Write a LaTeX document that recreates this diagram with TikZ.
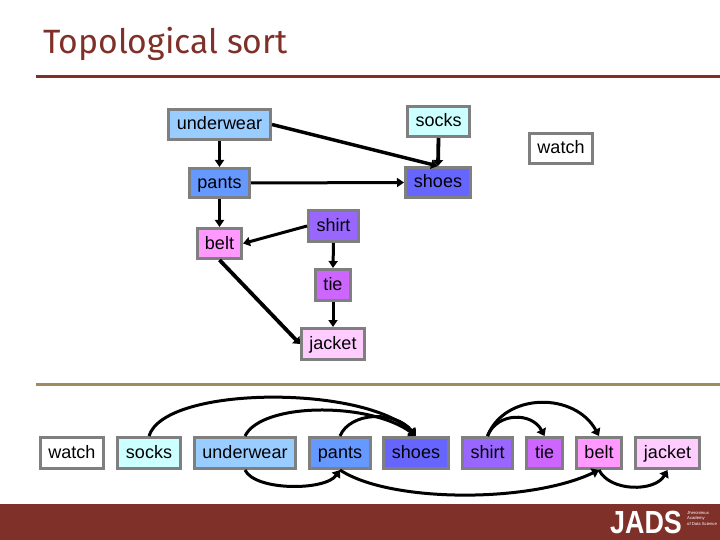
\documentclass[tikz,border=0pt]{standalone}
\usepackage{fontspec}
\setmainfont{Liberation Sans}
\newfontfamily\titlefont{Fira Sans}
\usetikzlibrary{arrows.meta}
\definecolor{brick}{HTML}{7F3029}
\definecolor{tan}{HTML}{A08B60}
\definecolor{edgegray}{HTML}{7F7F7F}
\definecolor{cwatch}{HTML}{FFFFFF}
\definecolor{csocks}{HTML}{CCFFFF}
\definecolor{cunder}{HTML}{99CCFF}
\definecolor{cpants}{HTML}{6699FF}
\definecolor{cshoes}{HTML}{6666FF}
\definecolor{cshirt}{HTML}{9966FF}
\definecolor{ctie}{HTML}{CC66FF}
\definecolor{cbelt}{HTML}{FF99FF}
\definecolor{cjacket}{HTML}{FFCCFF}
\tikzset{
  item/.style={draw=edgegray,line width=3pt,inner sep=0pt,font=\fontsize{18}{20}\selectfont,text height=14pt,text depth=3pt,text=black},
  link/.style={draw=black,line width=3pt,-{Triangle[width=9pt,length=7pt]}},
  heavy/.style={link,line width=3.8pt,-{Triangle[width=10pt,length=6pt]}},
  arc/.style={draw=black,line width=3pt,-{Triangle[width=10pt,length=7pt]}}
}
\newcommand{\itembox}[7]{%
  \node[item,fill=#6,minimum width=#4pt-#2pt-3pt,minimum height=#5pt-#3pt-3pt] (#1) at ({(#2+#4)/2},{(#3+#5)/2}) {#7};}
\begin{document}
\begin{tikzpicture}[x=1pt,y=-1pt]
\useasboundingbox (0,0) rectangle (720,540);
\fill[white] (0,0) rectangle (720,540);
\fill[brick] (0,504) rectangle (720,540);
\fill[brick] (36,75.5) rectangle (720,78.5);
\fill[tan] (36,382.5) rectangle (720,385.5);
\node[anchor=base west,inner sep=0pt,text=brick,font=\titlefont\fontsize{33.7}{36}\selectfont] (title) at (43,54) {Topological sort};
% logo
\node[anchor=base west,inner sep=0pt,text=white,font=\bfseries\fontsize{32}{34}\selectfont] (logo) at (610,533.5) {\scalebox{.84}[1]{JADS}};
\node[anchor=north west,inner sep=0pt,text=white,align=left,font=\fontsize{4.2}{5.5}\selectfont] (logotext) at (687,511) {Jheronimus\\Academy\\of Data Science};
% upper graph
\itembox{tu}{167}{108}{272}{141}{cunder}{underwear}
\itembox{ts}{406}{105}{471}{138}{csocks}{socks}
\itembox{tw}{528}{132}{594}{165}{cwatch}{watch}
\itembox{tp}{188}{167}{251}{199}{cpants}{pants}
\itembox{tsh}{404}{166}{472}{199}{cshoes}{shoes}
\itembox{tst}{307}{209}{360}{243}{cshirt}{shirt}
\itembox{tb}{196}{227}{243}{260}{cbelt}{belt}
\itembox{tt}{314}{268}{352}{302}{ctie}{tie}
\itembox{tj}{300}{327}{366}{361}{cjacket}{jacket}
\draw[link] (tu.south) -- (tp.north);
\draw[link] (tp.south) -- (tb.north);
\draw[link,line width=3.5pt] (tu.east) -- (tsh.north);
\draw[heavy] (ts.south) -- (tsh.north);
\draw[link] (tp.east) -- (tsh.west);
\draw[link] (tst.west) -- (tb.east);
\draw[link] (tst.south) -- (tt.north);
\draw[link] (tt.south) -- (tj.north);
\draw[heavy] (tb.south) -- (tj.west);
% sorted row
\itembox{bw}{39}{436}{105}{470}{cwatch}{watch}
\itembox{bs}{116}{436}{182}{470}{csocks}{socks}
\itembox{bu}{193}{436}{297}{470}{cunder}{underwear}
\itembox{bp}{308}{436}{372}{470}{cpants}{pants}
\itembox{bsh}{382}{436}{450}{470}{cshoes}{shoes}
\itembox{bst}{461}{436}{514}{470}{cshirt}{shirt}
\itembox{bt}{525}{436}{564}{470}{ctie}{tie}
\itembox{bb}{575}{436}{623}{470}{cbelt}{belt}
\itembox{bj}{634}{436}{701}{470}{cjacket}{jacket}
\draw[arc] (bs.north) .. controls (165,385) and (366,385) .. (bsh.north);
\draw[arc] (bu.north) .. controls (262,402) and (370,402) .. (bsh.north);
\draw[arc] (bp.north) .. controls (350,412) and (395,410) .. (bsh.north);
\draw[arc] (bst.north) .. controls (497,412) and (532,412) .. (bt.north);
\draw[arc] (bst.north) .. controls (505,392) and (575,392) .. (bb.north);
\draw[arc] (bu.south) .. controls (255,491) and (325,491) .. (bp.south);
\draw[arc] (bp.south) .. controls (390,503) and (530,503) .. (bb.south);
\draw[arc] (bb.south) .. controls (610,492) and (655,492) .. (bj.south);
\end{tikzpicture}
\end{document}
